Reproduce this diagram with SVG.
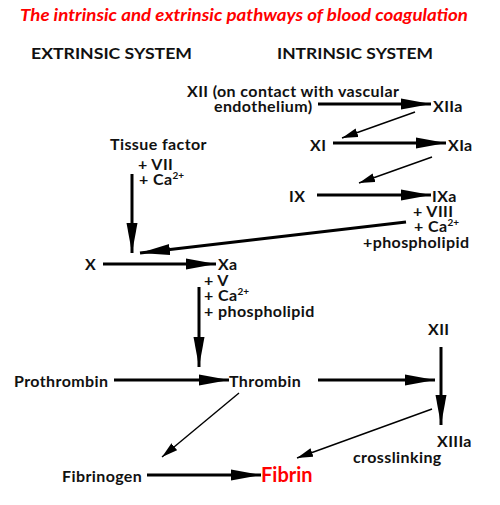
<svg xmlns="http://www.w3.org/2000/svg" width="500" height="505" viewBox="0 0 500 505">
<style>
text{font-family:Lato,"Open Sans","Liberation Sans",sans-serif;font-weight:bold;font-size:16px;letter-spacing:0.4px;fill:#111}
.title{fill:#ff0000;font-style:italic;font-size:17px;letter-spacing:0}
.hdr{font-size:15px;letter-spacing:0}
.sup{font-size:10px;letter-spacing:0}
.fibrin{fill:#ff0000;font-size:20px;letter-spacing:0}
.thick{stroke:#000;stroke-width:3;fill:none}
.thin{stroke:#000;stroke-width:1.4;fill:none}
</style>
<defs>
<marker id="big" markerUnits="userSpaceOnUse" markerWidth="31" markerHeight="12" refX="30" refY="6" orient="auto" viewBox="0 0 31 12">
<path d="M0,0.5 L30,6 L0,11.5 Z" fill="#000"/>
</marker>
<marker id="small" markerUnits="userSpaceOnUse" markerWidth="17" markerHeight="10" refX="16" refY="5" orient="auto" viewBox="0 0 17 10">
<path d="M0,0.5 L16,5 L0,9.5 Z" fill="#000"/>
</marker>
</defs>
<rect width="500" height="505" fill="#fff"/>
<text class="title" x="20" y="21" textLength="448" lengthAdjust="spacingAndGlyphs">The intrinsic and extrinsic pathways of blood coagulation</text>
<text class="hdr" x="31" y="59" textLength="161" lengthAdjust="spacingAndGlyphs">EXTRINSIC SYSTEM</text>
<text class="hdr" x="277" y="59" textLength="156" lengthAdjust="spacingAndGlyphs">INTRINSIC SYSTEM</text>

<g id="connectors">
<line class="thick" x1="318" y1="104" x2="431" y2="104" marker-end="url(#big)"/>
<line class="thin" x1="415" y1="112" x2="342" y2="138" marker-end="url(#small)"/>
<line class="thick" x1="333" y1="143" x2="446" y2="143" marker-end="url(#big)"/>
<line class="thin" x1="432" y1="157" x2="359" y2="183" marker-end="url(#small)"/>
<line class="thick" x1="317" y1="195" x2="431" y2="195" marker-end="url(#big)"/>
<line class="thick" x1="406" y1="222" x2="140" y2="253" marker-end="url(#big)"/>
<line class="thick" x1="132" y1="174" x2="132" y2="253" marker-end="url(#big)"/>
<line class="thick" x1="103" y1="264" x2="216" y2="264" marker-end="url(#big)"/>
<line class="thick" x1="199" y1="287" x2="199" y2="367" marker-end="url(#big)"/>
<line class="thick" x1="114" y1="380" x2="229" y2="380" marker-end="url(#big)"/>
<line class="thick" x1="318" y1="380" x2="435" y2="380" marker-end="url(#big)"/>
<line class="thick" x1="441" y1="347" x2="441" y2="425" marker-end="url(#big)"/>
<line class="thin" x1="432" y1="409" x2="297" y2="458" marker-end="url(#small)"/>
<line class="thin" x1="239" y1="393" x2="162" y2="457" marker-end="url(#small)"/>
<line class="thick" x1="147" y1="475" x2="261" y2="475" marker-end="url(#big)"/>
</g>

<g id="XII-contact"><text x="187" y="97">XII (on contact with vascular</text><text x="214" y="112">endothelium)</text></g>
<g id="XIIa"><text x="433" y="112">XIIa</text></g>
<g id="XI"><text x="310" y="151">XI</text></g>
<g id="XIa"><text x="448" y="151">XIa</text></g>
<g id="IX"><text x="289" y="202">IX</text></g>
<g id="IXa"><text x="432" y="202">IXa</text>
<text x="413" y="217">+ VIII</text>
<text x="414" y="232">+ Ca<tspan class="sup" dy="-6">2+</tspan></text>
<text x="363" y="248">+phospholipid</text></g>
<g id="tissue-factor"><text x="110" y="150">Tissue factor</text>
<text x="138" y="170">+ VII</text>
<text x="139" y="185">+ Ca<tspan class="sup" dy="-6">2+</tspan></text></g>
<g id="X"><text x="85" y="270">X</text></g>
<g id="Xa"><text x="218" y="270">Xa</text>
<text x="204" y="286">+ V</text>
<text x="204" y="301">+ Ca<tspan class="sup" dy="-6">2+</tspan></text>
<text x="204" y="317">+ phospholipid</text></g>
<g id="prothrombin"><text x="14" y="387">Prothrombin</text></g>
<g id="thrombin"><text x="229" y="387">Thrombin</text></g>
<g id="XII-right"><text x="428" y="335">XII</text></g>
<g id="XIIIa"><text x="437" y="447">XIIIa</text><text x="353" y="463">crosslinking</text></g>
<g id="fibrinogen"><text x="62" y="482">Fibrinogen</text></g>
<g id="fibrin"><text class="fibrin" x="261" y="482">Fibrin</text></g>
</svg>
